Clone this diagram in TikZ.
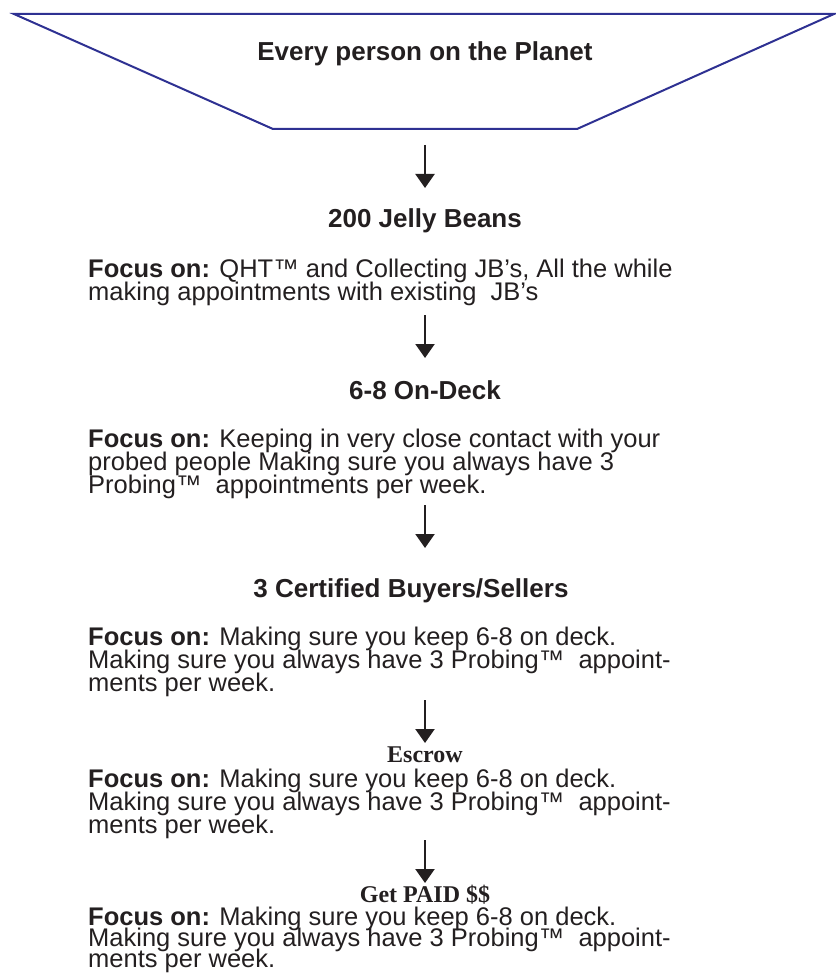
\documentclass[tikz,border=0pt]{standalone}
\usepackage{fontspec}
\setmainfont{Liberation Sans}
\newfontfamily\serifbold{Liberation Serif}
\usetikzlibrary{arrows.meta}
\definecolor{funnelblue}{HTML}{2E3192}
\definecolor{ink}{HTML}{231F20}
\tikzset{
  heading/.style={font=\fontsize{26}{23}\selectfont\bfseries, anchor=base, inner sep=0pt, text=ink},
  serifhead/.style={font=\fontsize{24}{23}\selectfont\serifbold\bfseries, anchor=base, inner sep=0pt, text=ink},
  bodyline/.style={font=\fontsize{25.5}{23}\selectfont, anchor=base west, inner sep=0pt, text=ink},
  flowarrow/.style={draw=ink, line width=2.2pt, -{Triangle[width=19pt,length=14pt]}}
}
\begin{document}
\begin{tikzpicture}[x=1pt,y=-1pt]
\useasboundingbox (0,0) rectangle (835,973);
% funnel
\draw[funnelblue, line width=2pt, line join=miter] (14,14) -- (834,14) -- (577,129) -- (273,129) -- cycle;
\node[heading] (planet) at (425,61) {Every person on the Planet};

% arrow 1
\coordinate (a1s) at (425,145);
\coordinate (a1e) at (425,188);
\draw[flowarrow] (a1s) -- (a1e);
\node[heading] (jb) at (425,228) {200 Jelly Beans};
\node[bodyline] (f1a) at (88,277) {\textbf{Focus on:} QHT™ and Collecting JB’s, All the while};
\node[bodyline] (f1b) at (88,300) {making appointments with existing\ \ JB’s};

% arrow 2
\coordinate (a2s) at (425,315);
\coordinate (a2e) at (425,358);
\draw[flowarrow] (a2s) -- (a2e);
\node[heading] (deck) at (425,399) {6-8 On-Deck};
\node[bodyline] (f2a) at (88,447) {\textbf{Focus on:} Keeping in very close contact with your};
\node[bodyline] (f2b) at (88,470) {probed people Making sure you always have 3};
\node[bodyline] (f2c) at (88,493) {Probing™\ \ appointments per week.};

% arrow 3
\coordinate (a3s) at (425,505);
\coordinate (a3e) at (425,548);
\draw[flowarrow] (a3s) -- (a3e);
\node[heading] (cert) at (411,597) {3 Certified Buyers/Sellers};
\node[bodyline] (f3a) at (88,645) {\textbf{Focus on:} Making sure you keep 6-8 on deck.};
\node[bodyline] (f3b) at (88,668) {Making sure you always have 3 Probing™\ \ appoint-};
\node[bodyline] (f3c) at (88,691) {ments per week.};

% arrow 4
\coordinate (a4s) at (425,700);
\coordinate (a4e) at (425,743);
\draw[flowarrow] (a4s) -- (a4e);
\node[serifhead] (escrow) at (425,762) {Escrow};
\node[bodyline] (f4a) at (88,787) {\textbf{Focus on:} Making sure you keep 6-8 on deck.};
\node[bodyline] (f4b) at (88,810) {Making sure you always have 3 Probing™\ \ appoint-};
\node[bodyline] (f4c) at (88,833) {ments per week.};

% arrow 5
\coordinate (a5s) at (425,840);
\coordinate (a5e) at (425,883);
\draw[flowarrow] (a5s) -- (a5e);
\node[serifhead] (paid) at (425,902) {Get PAID \$\$};
\node[bodyline] (f5a) at (88,925) {\textbf{Focus on:} Making sure you keep 6-8 on deck.};
\node[bodyline] (f5b) at (88,946) {Making sure you always have 3 Probing™\ \ appoint-};
\node[bodyline] (f5c) at (88,967) {ments per week.};
\end{tikzpicture}
\end{document}
